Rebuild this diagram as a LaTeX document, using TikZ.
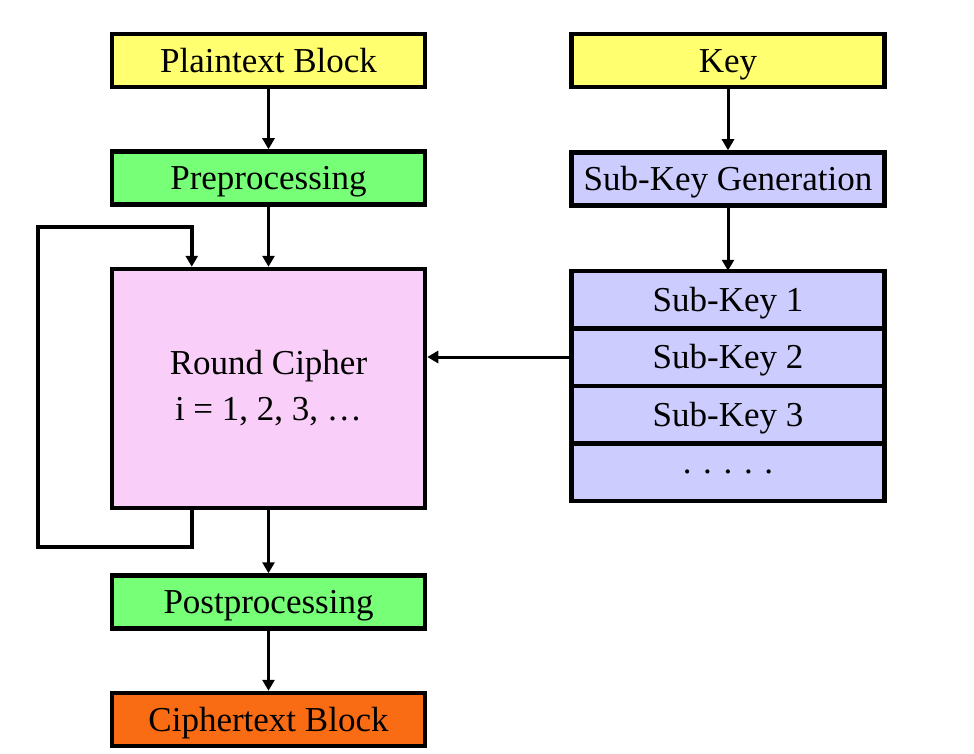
\documentclass[tikz,border=0pt]{standalone}
\usepackage{fontspec}
\setmainfont{Liberation Serif}
\usetikzlibrary{positioning,calc,arrows.meta}
\definecolor{blockyellow}{RGB}{255,255,112}
\definecolor{procgreen}{RGB}{119,255,119}
\definecolor{roundpink}{RGB}{249,207,250}
\definecolor{keyblue}{RGB}{204,204,255}
\definecolor{cipherorange}{RGB}{250,108,20}
\tikzset{
  cipher/.style={
    x=1pt, y=-1pt,
    node distance=60pt,
    every node/.style={draw,line width=4.5pt,minimum width=313pt,minimum height=53pt,
        inner sep=2pt,align=center,font=\fontsize{35}{46}\selectfont,
        text height=31.5pt,text depth=8.4pt},
    block/.style={fill=blockyellow},
    process/.style={fill=procgreen},
    keybox/.style={fill=keyblue},
    subkey/.style={fill=keyblue,outer sep=0pt,minimum height=57.5pt},
    roundbox/.style={fill=roundpink,minimum height=239pt,text height=,text depth=},
    outblock/.style={fill=cipherorange},
    link/.style={-{Triangle[width=12pt,length=11pt]},line width=3pt},
    feedback/.style={link,line width=4pt}
  }
}

\begin{document}
\begin{tikzpicture}[cipher]
    \useasboundingbox (0,0) rectangle (974,754);
    % left column
    \node[block] (plain) at (268.5,60.5) {Plaintext Block};
    \node[process,below=of plain] (pre) {Preprocessing};
    \node[roundbox,below=of pre,yshift=0pt] (rc) {Round Cipher\\i = 1, 2, 3, …};
    \node[process,below=63pt of rc] (post) {Postprocessing};
    \node[outblock,below=of post] (ct) {Ciphertext Block};
    % right column
    \node[block] (key) at (728,60.5) {Key};
    \node[keybox,below=61pt of key] (gen) {Sub-Key Generation};
    \node[subkey,below=63pt of gen] (sk1) {Sub-Key 1};
    \node[subkey,below=0pt of sk1] (sk2) {Sub-Key 2};
    \node[subkey,below=0pt of sk2] (sk3) {Sub-Key 3};
    \node[subkey,below=0pt of sk3,text height=,text depth=] (skn) {. . . . .};

    \draw[link] (plain) -- (pre);
    \draw[link] (pre) -- (rc);
    \draw[link] (rc) -- (post);
    \draw[link] (post) -- (ct);
    \draw[link] (key) -- (gen);
    \draw[link] (gen) -- (sk1);
    \draw[link] (sk2.west) -- (sk2.west -| rc.east);

    % loop back into the round
    \coordinate (rcout) at ($(rc.south west)+(82,0)$);
    \coordinate (rcin) at ($(rc.north west)+(82,0)$);
    \draw[feedback] (rcout) -- ++(0,37) -- ++(-154,0) |- ($(rcin)+(0,-40)$) -- (rcin);
\end{tikzpicture}
\end{document}
